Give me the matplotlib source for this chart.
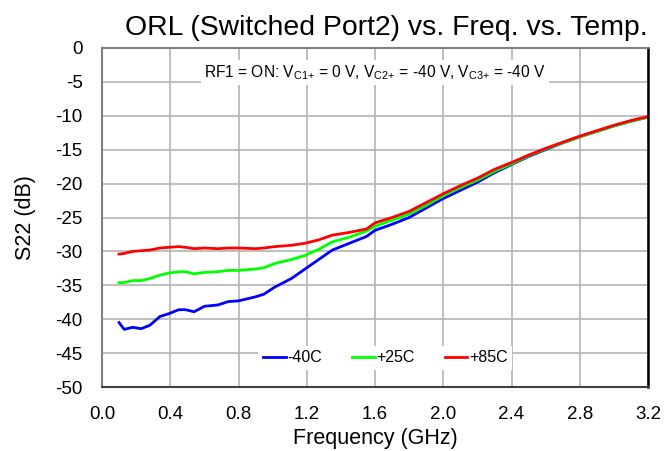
import matplotlib
matplotlib.use('Agg')
import matplotlib.pyplot as plt

plt.rcParams['font.family'] = ['Liberation Sans', 'DejaVu Sans']
plt.rcParams['mathtext.default'] = 'regular'
plt.rcParams['axes.unicode_minus'] = False

# frequency points (GHz)
freq = [0.10, 0.13, 0.18, 0.23, 0.28, 0.34, 0.39, 0.45, 0.49, 0.54, 0.60, 0.68, 0.74, 0.80,
        0.90, 0.95, 1.01, 1.11, 1.19, 1.27, 1.35, 1.45, 1.55, 1.60, 1.70, 1.80, 1.90, 2.00,
        2.10, 2.20, 2.30, 2.40, 2.50, 2.60, 2.70, 2.80, 2.90, 3.00, 3.10, 3.20]

# S22 (dB) per temperature
s22_m40 = [-40.5, -41.5, -41.2, -41.4, -40.9, -39.6, -39.2, -38.6, -38.6, -38.9, -38.1, -37.9, -37.4, -37.3,
           -36.7, -36.3, -35.3, -34.0, -32.6, -31.2, -29.8, -28.8, -27.8, -26.9, -26.0, -25.0, -23.6, -22.2,
           -21.0, -19.8, -18.4, -17.2, -16.0, -15.0, -14.0, -13.1, -12.3, -11.5, -10.8, -10.2]
s22_p25 = [-34.6, -34.6, -34.3, -34.3, -34.0, -33.5, -33.2, -33.0, -33.0, -33.3, -33.1, -33.0, -32.8, -32.8,
           -32.6, -32.4, -31.8, -31.2, -30.6, -29.7, -28.6, -27.9, -27.0, -26.3, -25.4, -24.5, -23.2, -21.8,
           -20.6, -19.5, -18.2, -17.1, -15.9, -14.9, -14.0, -13.1, -12.3, -11.5, -10.8, -10.2]
s22_p85 = [-30.4, -30.3, -30.0, -29.9, -29.8, -29.5, -29.4, -29.3, -29.4, -29.6, -29.5, -29.6, -29.5, -29.5,
           -29.6, -29.5, -29.3, -29.1, -28.8, -28.3, -27.6, -27.2, -26.7, -25.8, -25.0, -24.1, -22.8, -21.5,
           -20.3, -19.2, -17.9, -16.9, -15.8, -14.8, -13.9, -13.0, -12.2, -11.4, -10.7, -10.1]

labels = ['-40C', '+25C', '+85C']
colors = ['#0000ff', '#00ff00', '#ff0000']
x_ticks = [0.0, 0.4, 0.8, 1.2, 1.6, 2.0, 2.4, 2.8, 3.2]
y_ticks = list(range(-50, 1, 5))

fig = plt.figure(figsize=(6.65, 4.51), dpi=100)
ax = fig.add_axes([102 / 665, 64 / 451, 546 / 665, 339 / 451])

for ys, lab, c in zip([s22_m40, s22_p25, s22_p85], labels, colors):
    ax.plot(freq, ys, color=c, lw=2, label=lab)

ax.set_xlim(0, 3.2)
ax.set_ylim(-50, 0)
ax.set_xticks(x_ticks)
ax.set_xticklabels(['%.1f' % v for v in x_ticks])
ax.set_yticks(y_ticks)
ax.grid(True, color='#b4b4b4', lw=1.2)
ax.set_axisbelow(True)
ax.tick_params(length=0, labelsize=13.5, pad=14)

ax.spines['left'].set_color('#808080')
ax.spines['left'].set_linewidth(1.5)
ax.spines['top'].set_color('#808080')
ax.spines['top'].set_linewidth(1.5)
ax.spines['bottom'].set_color('#404040')
ax.spines['bottom'].set_linewidth(1.5)
ax.spines['right'].set_color('black')
ax.spines['right'].set_linewidth(1.8)

ax.set_xlabel('Frequency (GHz)', fontsize=15.5, labelpad=3)
ax.set_ylabel('S22 (dB)', fontsize=15.5, labelpad=14)
fig.text(648 / 665, 1 - 35 / 451, 'ORL (Switched Port2) vs. Freq. vs. Temp.',
         ha='right', va='baseline', fontsize=20.4)

ax.text(1.6, -3.6, r'RF1 = ON: V$_{C1{+}}$ = 0 V, V$_{C2{+}}$ = -40 V, V$_{C3{+}}$ = -40 V',
        ha='center', va='center', fontsize=11.2,
        bbox=dict(facecolor='white', edgecolor='none', pad=2))

leg = ax.legend(loc='center', bbox_to_anchor=(0.519, 0.086), ncol=3, fontsize=11.5,
                frameon=True, fancybox=False, framealpha=1, edgecolor='none',
                handlelength=1.4, handletextpad=0.1, columnspacing=1.9, borderpad=0.3)

fig.savefig('out.png', dpi=100)
